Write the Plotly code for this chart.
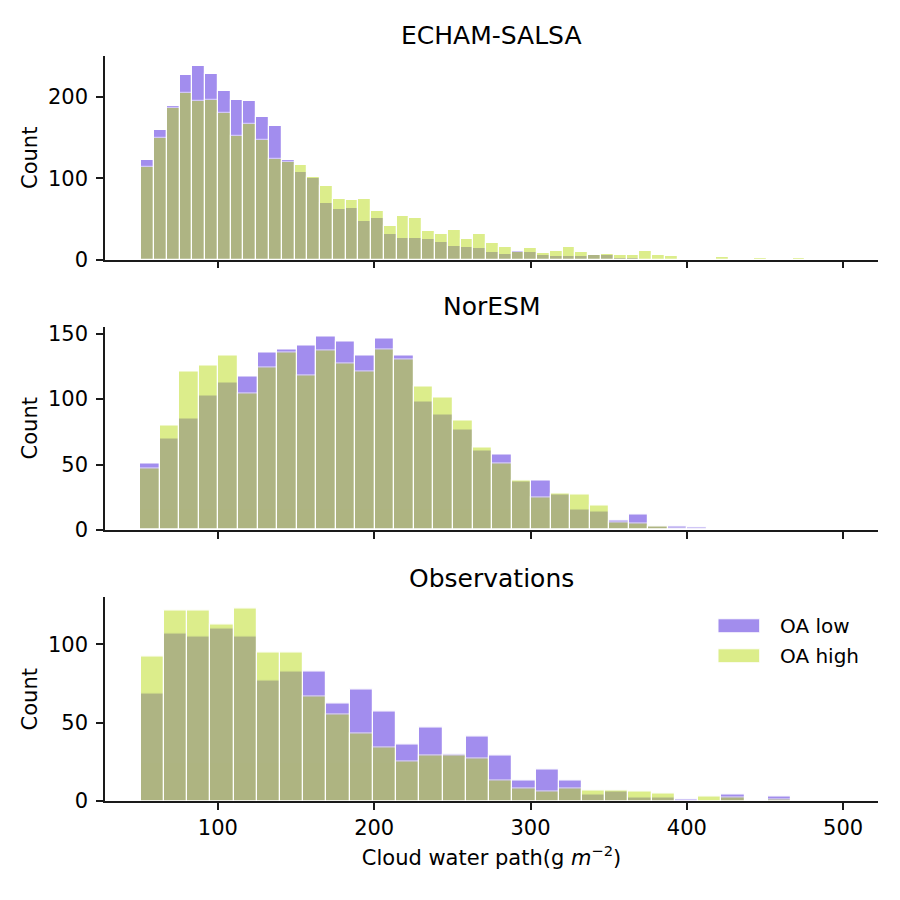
import numpy as np
import plotly.graph_objects as go

# counts per bin
echam_low = [122, 160, 189, 227, 238, 228, 207, 196, 195, 176, 165, 123, 108, 101, 69,
             62, 63, 47, 51, 31, 27, 27, 25, 21, 17, 16, 14, 9, 7, 11,
             9, 6, 4, 4, 4, 5, 5, 2, 2, 1, 0, 0, 1, 0, 0,
             0, 1, 0, 0, 0, 0, 0, 1, 0, 0]
echam_high = [114, 150, 186, 205, 195, 197, 180, 152, 167, 147, 124, 120, 117, 102, 91,
              75, 73, 75, 60, 41, 54, 51, 35, 31, 36, 25, 31, 20, 15, 9,
              14, 8, 10, 15, 9, 5, 7, 5, 6, 10, 6, 4, 0, 0, 0,
              3, 0, 0, 2, 0, 0, 2, 0, 0, 1]

noresm_low = [51, 70, 85, 103, 113, 117, 136, 138, 141, 148, 144, 133, 146, 133, 98,
              88, 77, 61, 58, 37, 38, 27, 16, 14, 7, 12, 3, 3, 2, 0,
              0, 0, 0, 0, 0, 0]
noresm_high = [47, 80, 121, 126, 133, 104, 124, 136, 118, 137, 127, 121, 138, 130, 110,
               101, 84, 63, 51, 38, 25, 28, 27, 19, 6, 5, 3, 1, 0, 0,
               0, 0, 0, 0, 0, 0]

obs_low = [69, 107, 105, 110, 105, 77, 83, 83, 62, 71, 57, 36, 47, 30, 41,
           29, 13, 20, 13, 4, 6, 2, 2, 1, 0, 4, 0, 3, 0, 0]
obs_high = [92, 122, 122, 113, 123, 95, 95, 67, 55, 43, 34, 25, 29, 29, 27,
            13, 8, 6, 8, 7, 7, 6, 5, 0, 3, 2, 0, 1, 0, 0]

panel_names = ["ECHAM-SALSA", "NorESM", "Observations"]
series_names = ["OA low", "OA high"]
x_ticks = [100, 200, 300, 400, 500]

# bin layout of each panel: (first edge, bin width)
bins = [(51.0, 8.17), (50.4, 12.5), (50.6, 14.86)]
panels = [(echam_low, echam_high), (noresm_low, noresm_high), (obs_low, obs_high)]

purple = "rgb(71,29,221)"
green = "rgb(186,220,24)"
axis_col = "#1a1a1a"
font = "DejaVu Sans"

fig = go.Figure()
for i, ((low, high), (start, width)) in enumerate(zip(panels, bins)):
    centers = start + width * (np.arange(len(low)) + 0.5)
    sfx = "" if i == 0 else str(i + 1)
    for vals, col, name in [(low, purple, series_names[0]), (high, green, series_names[1])]:
        fig.add_trace(go.Bar(
            x=centers, y=vals, width=width, name=name, showlegend=False,
            marker=dict(color=col, opacity=0.5, line=dict(color="white", width=1.2)),
            xaxis="x" + sfx, yaxis="y" + sfx,
        ))

domains = [[0.7268, 1.0], [0.3638, 0.6369], [0.0, 0.2732]]
yranges = [[0, 250.6], [0, 155.5], [0, 130]]
yticks = [[0, 100, 200], [0, 50, 100, 150], [0, 50, 100]]

# page body adds 8px offset, margins compensate for it
layout = dict(
    width=900, height=900, barmode="overlay", bargap=0,
    plot_bgcolor="white", paper_bgcolor="white",
    margin=dict(l=97, r=30, t=48, b=107),
    font=dict(family=font, size=21, color="black"),
)
for i in range(3):
    sfx = "" if i == 0 else str(i + 1)
    layout["xaxis" + sfx] = dict(
        range=[27.8, 522.3], tickvals=x_ticks, showticklabels=(i == 2),
        ticks="outside", ticklen=7, tickwidth=1.6, tickcolor=axis_col,
        showline=True, linecolor=axis_col, linewidth=1.6, showgrid=False, zeroline=False,
        anchor="y" + sfx, tickfont=dict(size=21),
    )
    layout["yaxis" + sfx] = dict(
        domain=domains[i], range=yranges[i], tickvals=yticks[i],
        ticks="outside", ticklen=7, tickwidth=1.6, tickcolor=axis_col,
        showline=True, linecolor=axis_col, linewidth=1.6, showgrid=False, zeroline=False,
        anchor="x" + sfx, tickfont=dict(size=21), ticklabelstandoff=4,
        title=dict(text="Count", font=dict(size=21), standoff=5),
    )
layout["xaxis2"]["matches"] = "x"
layout["xaxis3"]["matches"] = "x"
layout["xaxis3"]["title"] = dict(text="Cloud water path(g <i>m</i><sup>−2</sup>)",
                                  font=dict(size=21), standoff=11)
fig.update_layout(**layout)

# panel titles
for name, ypx in zip(panel_names, [35, 306, 578]):
    fig.add_annotation(text=name, x=0.5, y=(800.5 - ypx) / 745, xref="paper", yref="paper",
                       xanchor="center", yanchor="middle", showarrow=False,
                       font=dict(size=25, family=font, color="black"))

# legend inside the bottom panel
for name, col, y0, y1, yt in [(series_names[0], purple, 0.2258, 0.2446, 0.2349),
                              (series_names[1], green, 0.1856, 0.2043, 0.1946)]:
    fig.add_shape(type="rect", xref="paper", yref="paper", x0=0.793, x1=0.847, y0=y0, y1=y1,
                  fillcolor=col, opacity=0.5, line=dict(color="white", width=1))
    fig.add_annotation(text=name, x=0.870, y=yt, xref="paper", yref="paper",
                       xanchor="left", yanchor="middle", showarrow=False,
                       font=dict(size=20, family=font, color="black"))

fig.write_html("out.html")
